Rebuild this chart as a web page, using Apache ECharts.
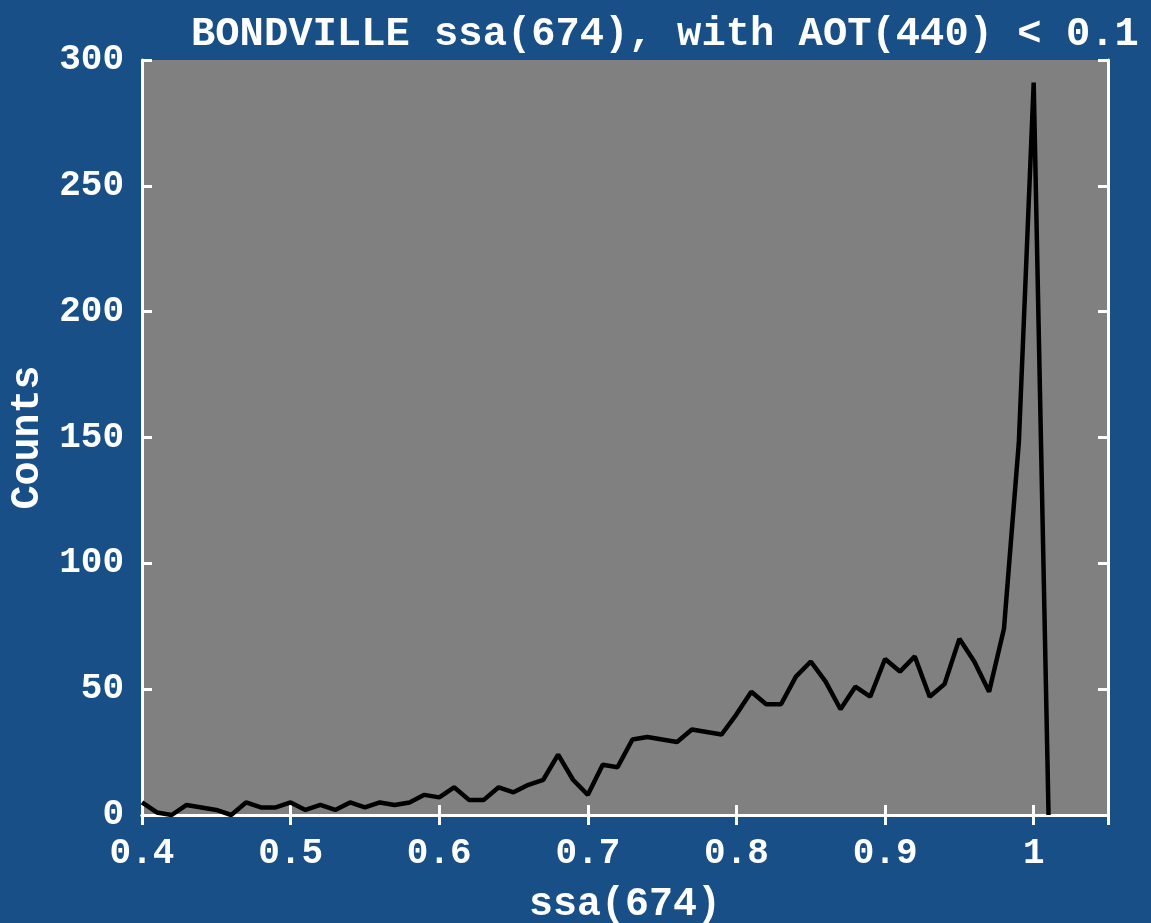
<!DOCTYPE html>
<html>
<head>
<meta charset="utf-8">
<script src="https://cdn.jsdelivr.net/npm/echarts@6/dist/echarts.min.js"></script>
<style>
html,body{margin:0;padding:0;background:#174f86;}
#chart{width:1151px;height:923px;}
</style>
</head>
<body>
<div id="chart"></div>
<script>
const titleText = 'BONDVILLE ssa(674), with AOT(440) < 0.1';
const xName = 'ssa(674)';
const yName = 'Counts';
const ssaBins = [0.40,0.41,0.42,0.43,0.44,0.45,0.46,0.47,0.48,0.49,
  0.50,0.51,0.52,0.53,0.54,0.55,0.56,0.57,0.58,0.59,
  0.60,0.61,0.62,0.63,0.64,0.65,0.66,0.67,0.68,0.69,
  0.70,0.71,0.72,0.73,0.74,0.75,0.76,0.77,0.78,0.79,
  0.80,0.81,0.82,0.83,0.84,0.85,0.86,0.87,0.88,0.89,
  0.90,0.91,0.92,0.93,0.94,0.95,0.96,0.97,0.98,0.99,
  1.00,1.01];
const counts = [5,1,0,4,3,2,0,5,3,3,
  5,2,4,2,5,3,5,4,5,8,
  7,11,6,6,11,9,12,14,24,14,
  8,20,19,30,31,30,29,34,33,32,
  40,49,44,44,55,61,53,42,51,47,
  62,57,63,47,52,70,61,49,74,148,
  291,0];
const xTicks = [0.4,0.5,0.6,0.7,0.8,0.9,1.0];
const yTicks = [0,50,100,150,200,250,300];

const FONT = '"Liberation Mono", "Courier New", monospace';
const chart = echarts.init(document.getElementById('chart'));
const axisLine = {show:true, lineStyle:{color:'#ffffff', width:3}};
const axisTick = {show:true, inside:true, length:10, lineStyle:{color:'#ffffff', width:3}};
const labelStyle = {color:'#ffffff', fontFamily:FONT, fontWeight:'bold', fontSize:36};
function fmtX(v){
  const r = Math.round(v*100)/100;
  if (!xTicks.some(t => Math.abs(t - r) < 1e-6)) return '';
  return String(Math.round(r*10)/10);
}
chart.setOption({
  backgroundColor:'#174f86',
  animation:false,
  title:{
    text:titleText, left:186, top:9,
    textStyle:{color:'#ffffff', fontFamily:FONT, fontWeight:'bold', fontSize:40.5}
  },
  grid:{left:142, right:43, top:60, bottom:108, show:true, backgroundColor:'#808080', borderWidth:0,
        containLabel:false, outerBoundsMode:'none'},
  xAxis:[{
    type:'value', min:0.4, max:1.05, interval:0.1,
    axisLine:axisLine, axisTick:axisTick, splitLine:{show:false},
    axisLabel:Object.assign({margin:21, formatter:fmtX, showMaxLabel:false}, labelStyle),
    name:xName, nameLocation:'middle', nameGap:70,
    nameTextStyle:Object.assign({}, labelStyle, {fontSize:40})
  },{
    type:'value', position:'top', min:0.4, max:1.05, interval:0.1,
    axisLine:axisLine, axisTick:axisTick, splitLine:{show:false}, axisLabel:{show:false}
  }],
  yAxis:[{
    type:'value', min:0, max:300, interval:50,
    axisLine:axisLine, axisTick:axisTick, splitLine:{show:false},
    axisLabel:Object.assign({margin:18, padding:[10,0,0,0]}, labelStyle),
    name:yName, nameLocation:'middle', nameGap:88, nameRotate:90,
    nameTextStyle:Object.assign({}, labelStyle, {fontSize:40})
  },{
    type:'value', position:'right', min:0, max:300, interval:50,
    axisLine:axisLine, axisTick:axisTick, splitLine:{show:false}, axisLabel:{show:false}
  }],
  series:[{
    type:'line', xAxisIndex:0, yAxisIndex:0,
    data: ssaBins.map((x,i)=>[x, counts[i]]),
    showSymbol:false, symbol:'none',
    lineStyle:{color:'#000000', width:4.5},
    clip:true
  }]
});
</script>
</body>
</html>
